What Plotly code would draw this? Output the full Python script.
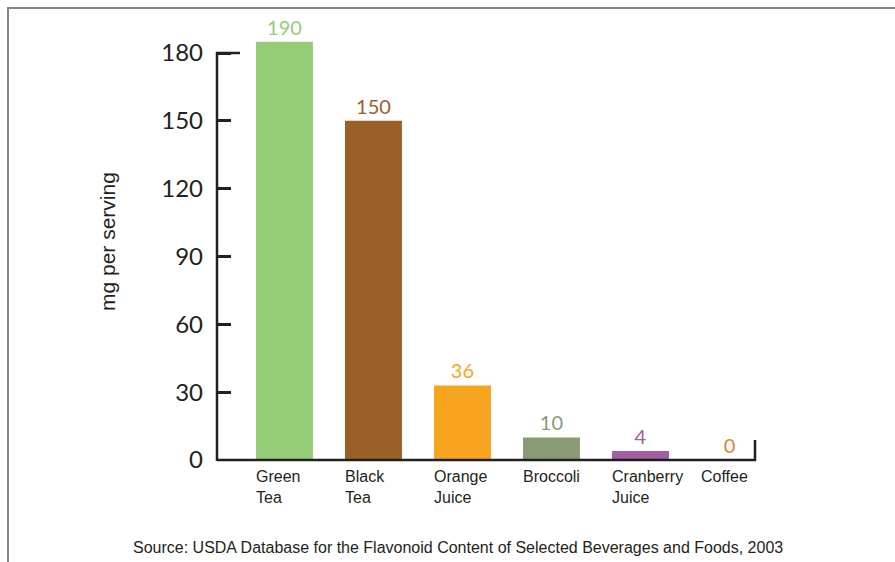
import plotly.graph_objects as go

# ---- data ----
categories = ["Green Tea", "Black Tea", "Orange Juice", "Broccoli", "Cranberry Juice", "Coffee"]
category_labels = ["Green<br>Tea", "Black<br>Tea", "Orange<br>Juice", "Broccoli", "Cranberry<br>Juice", "Coffee"]
bar_heights = [185, 150, 33, 10, 4, 0]          # heights as drawn in the picture
value_labels = ["190", "150", "36", "10", "4", "0"]  # printed labels
bar_colors = ["#95cc77", "#9b6028", "#f7a51f", "#8a9a74", "#a35da2", "#d9843c"]
y_ticks = [0, 30, 60, 90, 120, 150, 180]
source_text = "Source: USDA Database for the Flavonoid Content of Selected Beverages and Foods, 2003"

# ---- layout geometry (pixels) ----
W, H = 895, 562
PL, PR, PT, PB = 217, 755, 20, 460   # plot area
Y0_PX, Y180_PX = 460, 53
ymax = 180 * (PB - PT) / (Y0_PX - Y180_PX)
BAR_W = 0.64

def px_x(px):
    return (px - PL) / (PR - PL)

def px_y(py):
    return (PB - py) / (PB - PT)

AX = "#231f20"

fig = go.Figure()
fig.add_trace(go.Bar(
    x=list(range(len(categories))),
    y=bar_heights,
    width=BAR_W,
    marker=dict(color=bar_colors, line=dict(width=0)),
    text=value_labels,
    textposition="outside",
    textfont=dict(family="Lato", size=20, color=bar_colors),
    cliponaxis=False,
    hovertext=categories,
))

shapes = []
# border
shapes.append(dict(type="rect", xref="paper", yref="paper",
                   x0=px_x(8), x1=px_x(W + 20), y0=px_y(H + 20), y1=px_y(8),
                   line=dict(color="#858585", width=2), fillcolor="rgba(0,0,0,0)", layer="below"))
# y axis line + top cap tick
shapes.append(dict(type="path", xref="paper", yref="paper",
                   path=f"M {px_x(240)},{px_y(Y180_PX)} L {px_x(PL)},{px_y(Y180_PX)} L {px_x(PL)},{px_y(Y0_PX+1)}",
                   line=dict(color=AX, width=2.5)))
# x axis line + right end tick
shapes.append(dict(type="path", xref="paper", yref="paper",
                   path=f"M {px_x(PL)},{px_y(Y0_PX)} L {px_x(PR)},{px_y(Y0_PX)} L {px_x(PR)},{px_y(440)}",
                   line=dict(color=AX, width=2.5)))

annotations = []
for i, lab in enumerate(category_labels):
    annotations.append(dict(x=i - BAR_W / 2, xref="x", y=0, yref="paper",
                            xanchor="left", yanchor="top", yshift=-6, xshift=-2, align="left",
                            text=lab, showarrow=False,
                            font=dict(family="Liberation Sans", size=16, color=AX)))
annotations.append(dict(x=px_x(107), xref="paper", y=px_y(242), yref="paper",
                        xanchor="center", yanchor="middle",
                        text="mg per serving", textangle=-90, showarrow=False,
                        font=dict(family="Liberation Sans", size=21, color=AX)))
annotations.append(dict(x=px_x(458), xref="paper", y=px_y(547), yref="paper",
                        xanchor="center", yanchor="middle",
                        text=source_text, showarrow=False,
                        font=dict(family="Liberation Sans", size=16, color=AX)))

fig.update_layout(
    width=W, height=H,
    margin=dict(l=PL, r=W - PR, t=PT, b=H - PB),
    paper_bgcolor="white", plot_bgcolor="white",
    showlegend=False,
    xaxis=dict(range=[-0.758, 5.287], showticklabels=False, ticks="", showgrid=False,
               zeroline=False, showline=False, fixedrange=True),
    yaxis=dict(range=[0, ymax], tickvals=y_ticks, ticks="inside", ticklen=14,
               tickwidth=2.5, tickcolor=AX, showgrid=False, zeroline=False, showline=False,
               tickfont=dict(family="Lato", size=24, color=AX), ticklabelstandoff=13,
               fixedrange=True),
    shapes=shapes,
    annotations=annotations,
    bargap=0.3,
)

fig.write_html("out.html")
